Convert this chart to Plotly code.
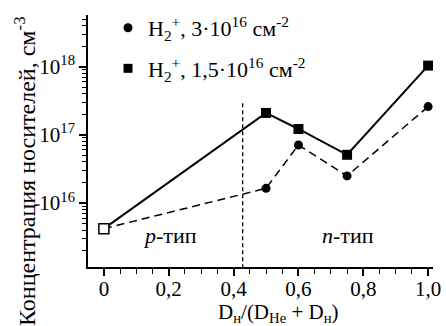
import plotly.graph_objects as go

# Data
x_vals = [0.0, 0.5, 0.6, 0.75, 1.0]
conc_3e16 = [4.2e15, 1.64e16, 7.1e16, 2.5e16, 2.6e17]      # circles, dashed
conc_15e16 = [4.2e15, 2.1e17, 1.22e17, 5.1e16, 1.04e18]    # squares, solid
boundary_x = 0.428
boundary_y = [1.1e15, 3.05e17]
label_3e16 = "H<sub>2</sub><sup>+</sup>, 3·10<sup>16</sup> см<sup>-2</sup>"
label_15e16 = "H<sub>2</sub><sup>+</sup>, 1,5·10<sup>16</sup> см<sup>-2</sup>"
x_tickvals = [0, 0.2, 0.4, 0.6, 0.8, 1.0]
x_ticktext = ["0", "0,2", "0,4", "0,6", "0,8", "1,0"]
y_tickvals = [1e16, 1e17, 1e18]
y_ticktext = ["10<sup>16</sup>", "10<sup>17</sup>", "10<sup>18</sup>"]

FONT = "Liberation Serif"

fig = go.Figure()

# boundary line
fig.add_trace(go.Scatter(x=[boundary_x, boundary_x], y=boundary_y, mode="lines",
                         line=dict(color="black", width=1.3, dash="4px,3px"),
                         showlegend=False, hoverinfo="skip"))

fig.add_trace(go.Scatter(
    x=x_vals, y=conc_3e16, mode="lines+markers",
    line=dict(color="black", width=1.5, dash="8px,5px"),
    marker=dict(symbol="circle", size=9, color="black", opacity=1),
    showlegend=False))

fig.add_trace(go.Scatter(
    x=x_vals, y=conc_15e16, mode="lines+markers",
    line=dict(color="black", width=2),
    marker=dict(symbol="square", size=10, color="black", opacity=1),
    showlegend=False))

# shared starting point (open square)
fig.add_trace(go.Scatter(
    x=x_vals[:1], y=conc_15e16[:1], mode="markers",
    marker=dict(symbol="square", size=10, color="white", opacity=1,
                line=dict(color="black", width=1.5)),
    showlegend=False))

# legend entries
fig.add_trace(go.Scatter(x=[None], y=[None], mode="markers", name=label_3e16,
                         marker=dict(symbol="circle", size=9, color="black"),
                         legendgroup="a"))
fig.add_trace(go.Scatter(x=[None], y=[None], mode="markers", name=label_15e16,
                         marker=dict(symbol="square", size=9, color="black"),
                         legendgroup="b"))

fig.add_annotation(x=0.205, y=0.067, xref="x", yref="paper", showarrow=False,
                   text="<i>p</i>-тип", font=dict(family=FONT, size=22, color="black"))
fig.add_annotation(x=0.753, y=0.067, xref="x", yref="paper", showarrow=False,
                   text="<i>n</i>-тип", font=dict(family=FONT, size=22, color="black"))

# axis titles
fig.add_annotation(x=-88 / 345 + 25 / 345, y=(267 - 171) / 252, xref="paper", yref="paper",
                   showarrow=False, textangle=-90, xanchor="center", yanchor="middle",
                   text="Концентрация носителей, см<sup>-3</sup>",
                   font=dict(family=FONT, size=24, color="black"))
fig.add_annotation(x=(278 - 88) / 345, y=-(313 - 267) / 252, xref="paper", yref="paper",
                   showarrow=False, xanchor="center", yanchor="middle",
                   text="D<sub>н</sub>/(D<sub>He</sub> + D<sub>н</sub>)",
                   font=dict(family=FONT, size=21, color="black"))

fig.update_layout(
    width=446, height=326,
    margin=dict(l=88, r=13, t=15, b=59, autoexpand=False),
    paper_bgcolor="white", plot_bgcolor="white",
    font=dict(family=FONT, size=21, color="black"),
    legend=dict(x=0.058, y=1.032, xanchor="left", yanchor="top",
                bgcolor="rgba(0,0,0,0)", traceorder="grouped", tracegroupgap=9,
                font=dict(family=FONT, size=22)),
    xaxis=dict(range=[-0.049, 1.015], showline=True, linecolor="black", linewidth=1.5,
               showgrid=False, zeroline=False, ticks="outside", ticklen=7, tickwidth=1.5,
               tickcolor="black", tickvals=x_tickvals, ticktext=x_ticktext,
               ticklabelstandoff=-5, automargin=False,
               minor=dict(ticks="outside", ticklen=5, tickwidth=1.2, dtick=0.05, tickcolor="black")),
    yaxis=dict(type="log", range=[15.06, 18.76], showline=True, linecolor="black", linewidth=1.5,
               showgrid=False, zeroline=False, ticks="outside", ticklen=7, tickwidth=1.5,
               tickcolor="black", tickvals=y_tickvals, ticktext=y_ticktext,
               automargin=False,
               minor=dict(ticks="outside", ticklen=4, tickwidth=1, tickcolor="black", dtick="D1")),
)

fig.write_html("out.html", config={"displayModeBar": False},
               post_script="document.body.style.margin='0';")
